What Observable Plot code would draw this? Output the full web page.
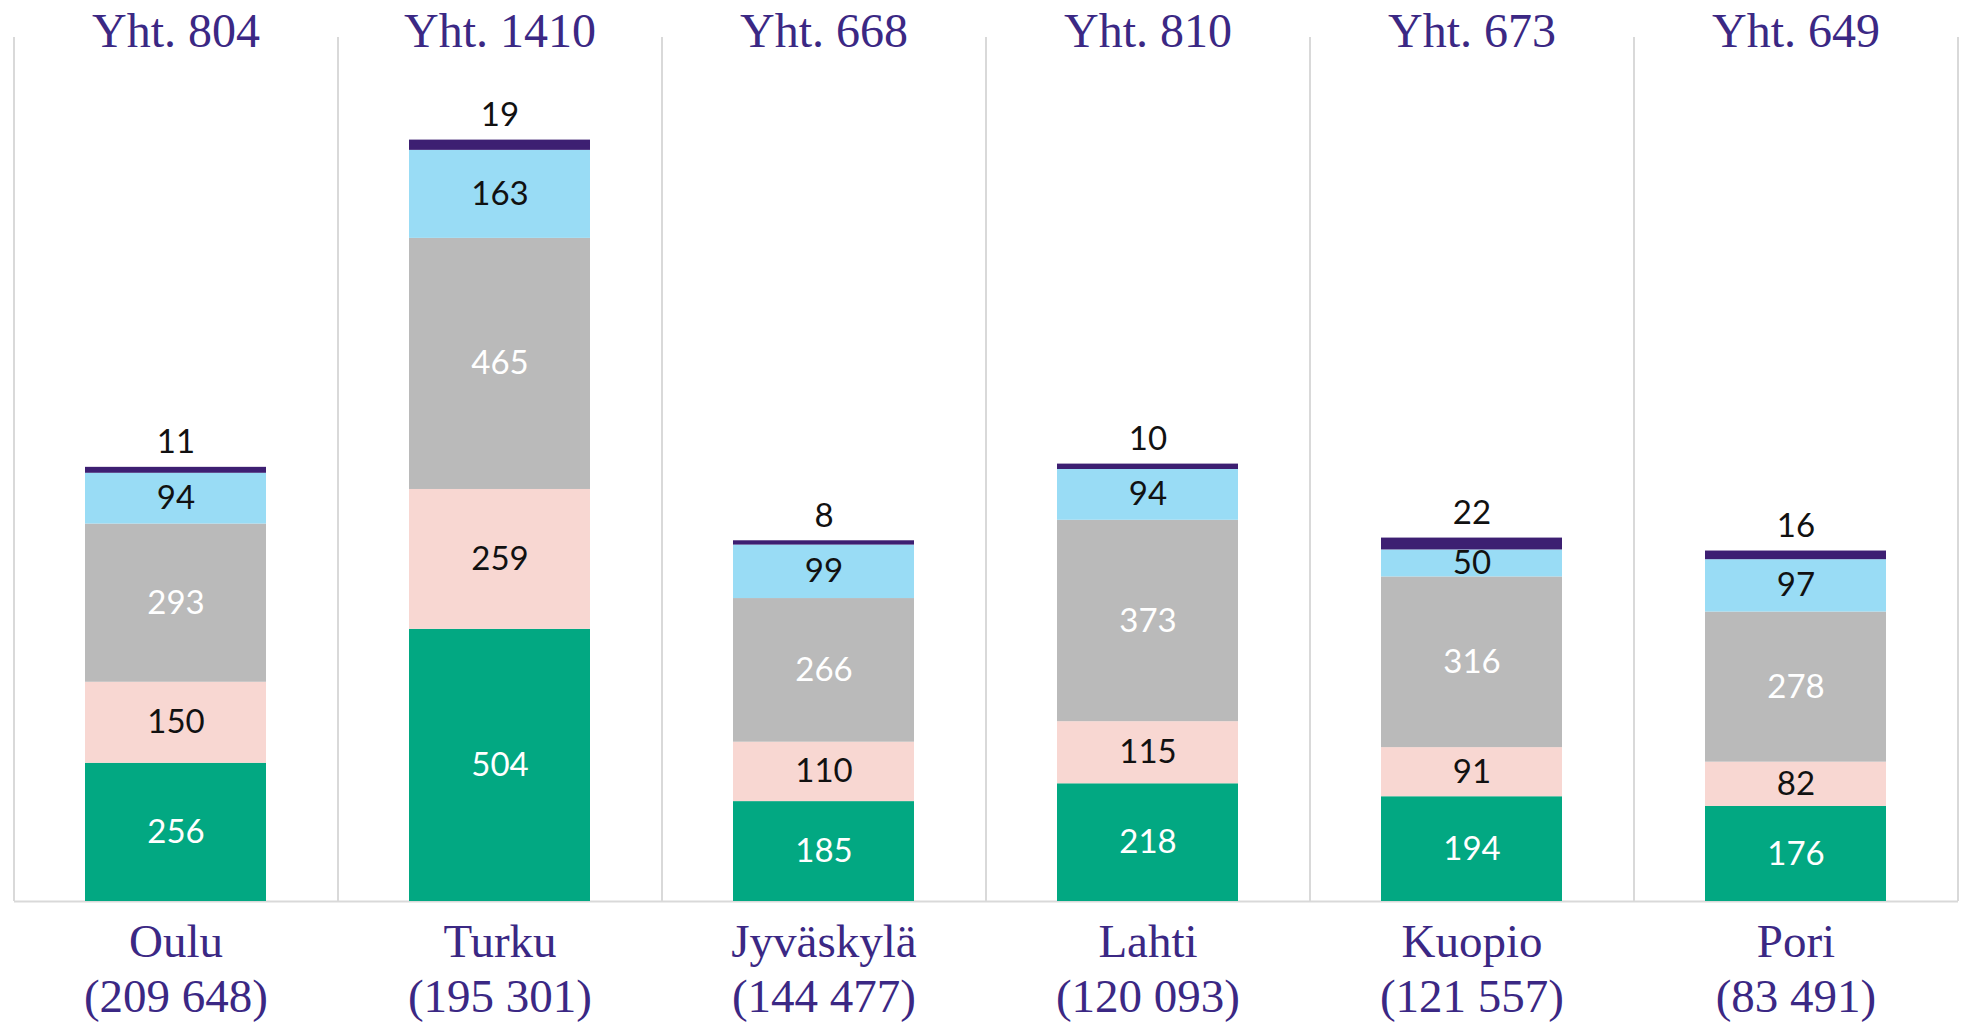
<!DOCTYPE html>
<html><head><meta charset="utf-8">
<script src="https://cdn.jsdelivr.net/npm/d3@7"></script>
<script src="https://cdn.jsdelivr.net/npm/@observablehq/plot@0.6"></script>
<style>html,body{margin:0;padding:0;background:#fff;} svg{display:block}</style>
</head><body><div id="chart"></div>
<script>
// ---- data ----
const cities = ["Oulu", "Turku", "Jyväskylä", "Lahti", "Kuopio", "Pori"];
const populations = ["209 648", "195 301", "144 477", "120 093", "121 557", "83 491"];
const totals = [804, 1410, 668, 810, 673, 649];
const seriesNames = ["luokka 1", "luokka 2", "luokka 3", "luokka 4", "luokka 5"];
const series1 = [256, 504, 185, 218, 194, 176];
const series2 = [150, 259, 110, 115, 91, 82];
const series3 = [293, 465, 266, 373, 316, 278];
const series4 = [94, 163, 99, 94, 50, 97];
const series5 = [11, 19, 8, 10, 22, 16];
const seriesColors = ["#02a882", "#f8d7d2", "#bababa", "#99dcf5", "#3d1f72"];

// ---- layout ----
const W = 1966, H = 1024, mL = 14, mR = 8, mT = 37, mB = 123;
const step = (W - mL - mR) / cities.length;
const purple = "#3b2884";
const serif = "'Liberation Serif', 'DejaVu Serif', serif";
const sans = "Lato, 'Open Sans', sans-serif";

const allSeries = [series1, series2, series3, series4, series5];
const rows = [];
allSeries.forEach((vals, si) => vals.forEach((v, ci) =>
  rows.push({city: cities[ci], series: seriesNames[si], value: v})));
const cityRows = cities.map((c, i) => ({
  city: c, total: totals[i], top: series5[i], label: `${c}\n(${populations[i]})`
}));
const whiteSeries = [seriesNames[0], seriesNames[2]];
const blackSeries = [seriesNames[1], seriesNames[3]];

const chart = Plot.plot({
  width: W, height: H,
  marginLeft: mL, marginRight: mR, marginTop: mT, marginBottom: mB,
  style: {background: "#fff"},
  x: {domain: cities, paddingInner: 0.44, paddingOuter: 0.22, axis: null},
  y: {domain: [0, 1600], axis: null},
  color: {domain: seriesNames, range: seriesColors},
  marks: [
    Plot.ruleX(cities, {x: d => d, dx: -step / 2, stroke: "#d9d9d9", strokeWidth: 2}),
    Plot.ruleX([cities[cities.length - 1]], {x: d => d, dx: step / 2, stroke: "#d9d9d9", strokeWidth: 2}),
    Plot.ruleY([0], {stroke: "#d9d9d9", strokeWidth: 2}),
    Plot.barY(rows, {x: "city", y: "value", fill: "series"}),
    Plot.text(rows, Plot.stackY({
      x: "city", y: "value", z: "series",
      text: d => whiteSeries.includes(d.series) ? String(d.value) : null,
      fill: "#ffffff", fontSize: 33, fontFamily: sans
    })),
    Plot.text(rows, Plot.stackY({
      x: "city", y: "value", z: "series",
      text: d => blackSeries.includes(d.series) ? String(d.value) : null,
      fill: "#111111", fontSize: 33, fontFamily: sans
    })),
    Plot.text(cityRows, {
      x: "city", y: "total", text: d => String(d.top),
      lineAnchor: "bottom", dy: -14, fill: "#111111", fontSize: 33, fontFamily: sans
    }),
    Plot.text(cityRows, {
      x: "city", text: d => `Yht. ${d.total}`, frameAnchor: "top",
      lineAnchor: "bottom", dy: 9, fill: purple, fontSize: 48, fontFamily: serif
    }),
    Plot.text(cityRows, {
      x: "city", text: "label", frameAnchor: "bottom",
      lineAnchor: "top", dy: 16, lineHeight: 1.17, fill: purple, fontSize: 47, fontFamily: serif
    })
  ]
});
document.getElementById("chart").appendChild(chart);
</script>
</body></html>
